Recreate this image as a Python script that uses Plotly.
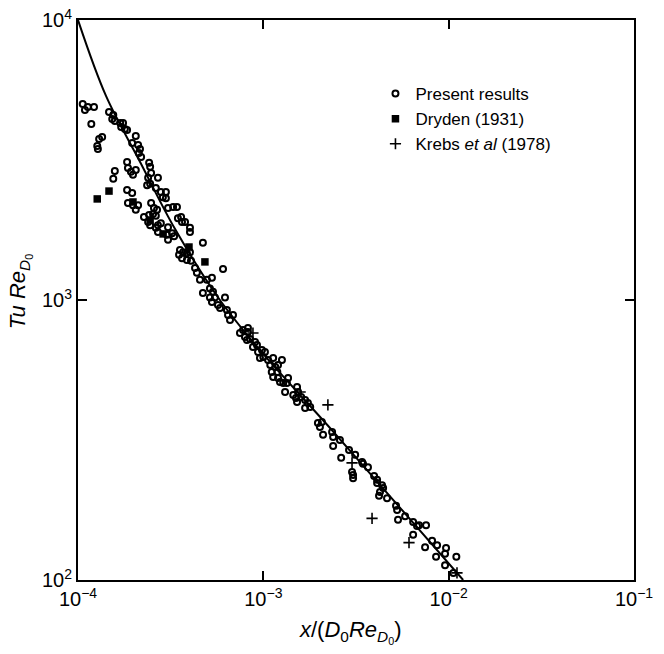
import plotly.graph_objects as go

# ---- data ----
present_x = [1.06e-4, 1.09e-4, 1.13e-4, 1.22e-4, 1.18e-4, 1.47e-4, 1.55e-4, 1.53e-4, 1.58e-4, 1.69e-4,
             1.75e-4, 1.71e-4, 1.79e-4, 1.84e-4, 1.35e-4, 1.30e-4, 1.27e-4, 1.28e-4, 2.05e-4, 1.96e-4,
             2.11e-4, 2.16e-4, 2.13e-4, 2.19e-4, 1.84e-4, 1.86e-4, 1.93e-4, 1.98e-4, 2.05e-4, 2.42e-4,
             2.45e-4, 2.48e-4, 2.39e-4, 2.45e-4, 2.70e-4, 1.58e-4, 1.55e-4, 1.84e-4, 1.96e-4, 2.36e-4,
             2.63e-4, 2.80e-4, 2.98e-4, 2.87e-4, 2.98e-4, 1.86e-4, 1.98e-4, 2.11e-4, 2.05e-4, 2.48e-4,
             2.57e-4, 2.67e-4, 3.06e-4, 3.26e-4, 3.42e-4, 2.27e-4, 2.42e-4, 2.54e-4, 2.63e-4, 2.39e-4,
             2.45e-4, 2.70e-4, 2.80e-4, 3.06e-4, 3.46e-4, 3.60e-4, 3.78e-4, 4.02e-4, 2.63e-4, 2.70e-4,
             3.64e-4, 4.02e-4, 3.02e-4, 3.06e-4, 3.22e-4, 3.30e-4, 4.72e-4, 3.55e-4, 3.69e-4, 3.87e-4,
             4.02e-4, 3.51e-4, 3.64e-4, 3.87e-4, 4.07e-4, 4.28e-4, 4.38e-4, 4.55e-4, 4.96e-4, 5.28e-4,
             6.06e-4, 4.72e-4, 5.15e-4, 5.35e-4, 5.48e-4, 5.28e-4, 5.15e-4, 6.21e-4, 5.69e-4, 5.84e-4,
             6.36e-4, 6.45e-4, 6.86e-4, 6.61e-4, 8.26e-4, 7.48e-4, 7.77e-4, 8.26e-4, 7.96e-4, 8.16e-4,
             8.47e-4, 9.02e-4, 9.24e-4, 8.79e-4, 9.36e-4, 9.83e-4, 1.02e-3, 1.00e-3, 9.59e-4, 1.06e-3,
             1.13e-3, 1.26e-3, 1.09e-3, 1.16e-3, 1.20e-3, 1.11e-3, 1.19e-3, 1.13e-3, 1.20e-3, 1.23e-3,
             1.36e-3, 1.34e-3, 1.28e-3, 1.31e-3, 1.52e-3, 1.54e-3, 1.45e-3, 1.50e-3, 1.60e-3, 1.68e-3,
             1.74e-3, 1.79e-3, 1.68e-3, 1.52e-3, 1.97e-3, 2.07e-3, 2.02e-3, 2.10e-3, 2.35e-3, 2.38e-3,
             2.38e-3, 2.59e-3, 2.63e-3, 2.90e-3, 3.13e-3, 3.01e-3, 3.05e-3, 3.05e-3, 3.41e-3, 3.45e-3,
             3.67e-3, 3.96e-3, 4.11e-3, 4.11e-3, 4.37e-3, 4.26e-3, 4.21e-3, 4.43e-3, 4.65e-3, 5.20e-3,
             5.27e-3, 5.33e-3, 5.82e-3, 6.43e-3, 6.75e-3, 6.92e-3, 7.55e-3, 6.43e-3, 7.46e-3, 8.14e-3,
             8.66e-3, 8.55e-3, 9.68e-3, 9.56e-3, 1.10e-2, 9.56e-3, 1.06e-2]
present_y = [5010, 4770, 4890, 4890, 4250, 4690, 4580, 4430, 4360, 4290,
             4290, 4150, 4080, 4050, 3820, 3760, 3550, 3460, 3850, 3640,
             3580, 3460, 3350, 3240, 3110, 2960, 2870, 2800, 2910, 3090,
             2990, 2840, 2730, 2600, 2730, 2890, 2710, 2470, 2410, 2570,
             2510, 2430, 2430, 2330, 2310, 2220, 2180, 2180, 2100, 2220,
             2130, 2100, 2130, 2150, 2150, 1980, 2010, 2030, 2000, 1900,
             1850, 1850, 1880, 1820, 1960, 1980, 1900, 1810, 1810, 1750,
             1900, 1750, 1710, 1640, 1730, 1690, 1600, 1510, 1480, 1470,
             1480, 1450, 1410, 1390, 1380, 1300, 1250, 1180, 1180, 1200,
             1290, 1060, 1100, 1070, 1020, 984, 1020, 1020, 960, 936,
             921, 884, 884, 848, 794, 762, 781, 769, 738, 720,
             726, 708, 691, 679, 652, 663, 652, 626, 621, 610,
             621, 610, 586, 576, 586, 553, 553, 531, 527, 510,
             527, 505, 505, 469, 489, 469, 458, 447, 450, 439,
             429, 415, 411, 432, 364, 367, 352, 330, 338, 324,
             301, 316, 273, 291, 280, 243, 237, 231, 264, 260,
             253, 235, 228, 222, 218, 206, 200, 213, 196, 184,
             178, 164, 169, 161, 156, 157, 157, 145, 131, 138,
             133, 121, 130, 124, 121, 113, 106]

dryden_x = [1.27e-4, 1.47e-4, 1.98e-4, 2.45e-4, 2.88e-4, 3.97e-4, 4.84e-4]
dryden_y = [2296, 2449, 2239, 1931, 1722, 1546, 1368]

krebs_x = [8.79e-4, 1.58e-3, 2.23e-3, 3.01e-3, 3.86e-3, 6.11e-3, 1.109e-2]
krebs_y = [762, 469, 422, 262, 166, 136, 106]

curve_x = [1.0e-4, 1.416e-4, 2.163e-4, 3.334e-4, 5.83e-4, 9.59e-4, 2.29e-3, 5.47e-3, 1.197e-2]
curve_y = [1.0e4, 5358, 3112, 1795, 1000, 662, 349, 181, 100]

x_ticks = [1e-4, 1e-3, 1e-2, 1e-1]
x_tick_text = ["10<sup>\u22124</sup>", "10<sup>\u22123</sup>", "10<sup>\u22122</sup>", "10<sup>\u22121</sup>"]
y_ticks = [1e2, 1e3, 1e4]
y_tick_text = ["10<sup>2</sup>", "10<sup>3</sup>", "10<sup>4</sup>"]

FONT = "Liberation Sans, Arial, sans-serif"

fig = go.Figure()
fig.add_trace(go.Scatter(x=curve_x, y=curve_y, mode="lines", line=dict(color="black", width=2, shape="spline"),
                         showlegend=False, hoverinfo="skip"))
fig.add_trace(go.Scatter(x=present_x, y=present_y, mode="markers", name="Present results",
                         marker=dict(symbol="circle-open", size=6, color="black", line=dict(width=2, color="black"))))
fig.add_trace(go.Scatter(x=dryden_x, y=dryden_y, mode="markers", name="Dryden (1931)",
                         marker=dict(symbol="square", size=7.5, color="black")))
fig.add_trace(go.Scatter(x=krebs_x, y=krebs_y, mode="markers", name="Krebs <i>et al</i> (1978)",
                         marker=dict(symbol="cross-thin-open", size=8, color="black", line=dict(width=1.6, color="black"))))

axis_common = dict(type="log", showgrid=False, zeroline=False, showline=True, linecolor="black", linewidth=2,
                   mirror="ticks", ticks="inside", ticklen=9, tickwidth=1.5, tickcolor="black", automargin=False,
                   ticklabeloverflow="allow", tickfont=dict(family=FONT, size=20, color="black"))

fig.update_xaxes(range=[-4, -1], tickvals=x_ticks, ticktext=x_tick_text, **axis_common)
fig.update_yaxes(range=[2, 4], tickvals=y_ticks, ticktext=y_tick_text, **axis_common)

fig.update_layout(
    template="none",
    width=664, height=654,
    margin=dict(l=78, r=30, t=20, b=74, autoexpand=False),
    paper_bgcolor="white", plot_bgcolor="white",
    font=dict(family=FONT, color="black"),
    legend=dict(x=0.535, y=0.9, xanchor="left", yanchor="top", bgcolor="rgba(0,0,0,0)",
                font=dict(family=FONT, size=17, color="black"), itemwidth=30, tracegroupgap=0),
    annotations=[
        dict(text="<i>x</i>/(<i>D</i><sub>0</sub><i>Re</i><sub><i>D</i><sub>0</sub></sub>)",
             xref="paper", yref="paper", x=0.489, y=-0.062, xanchor="center", yanchor="top",
             showarrow=False, font=dict(family=FONT, size=22, color="black")),
        dict(text="<i>Tu Re</i><sub><i>D</i><sub>0</sub></sub>",
             xref="paper", yref="paper", x=-0.105, y=0.515, xanchor="center", yanchor="middle",
             textangle=-90, showarrow=False, font=dict(family=FONT, size=22, color="black")),
    ],
)

fig.write_html("out.html", config={"displayModeBar": False},
               post_script="document.body.style.margin='0';document.body.style.overflow='hidden';")
